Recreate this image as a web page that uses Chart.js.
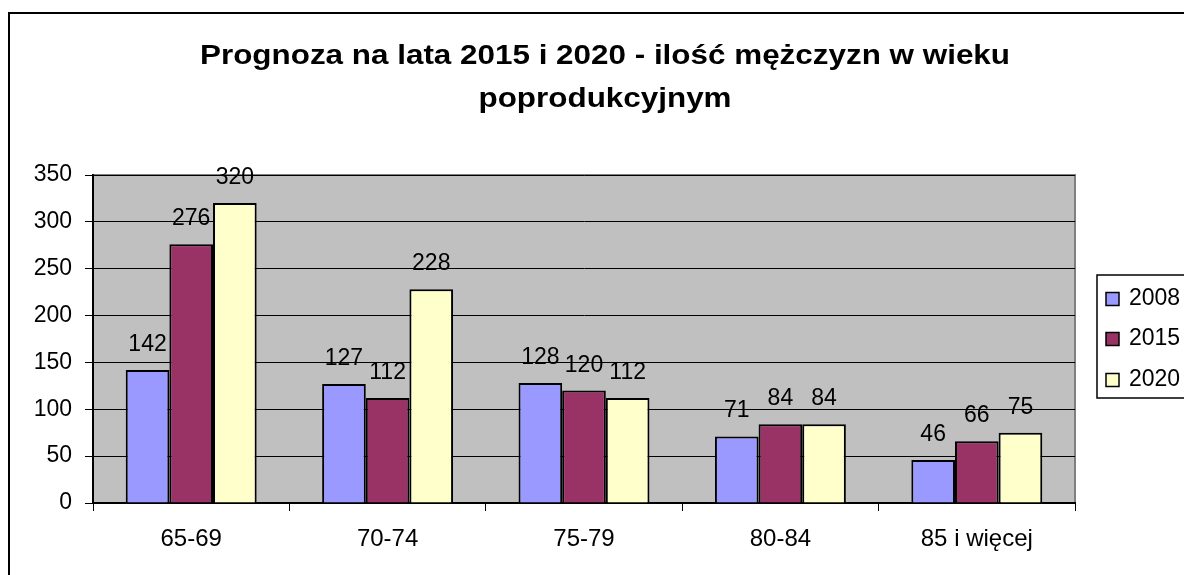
<!DOCTYPE html>
<html><head><meta charset="utf-8">
<script src="https://cdn.jsdelivr.net/npm/chart.js@4"></script>
<style>html,body{margin:0;padding:0;background:#fff;overflow:hidden}#wrap{width:1184px;height:575px;position:relative}</style>
</head><body><div id="wrap"><canvas id="c" width="1184" height="575"></canvas></div>
<script>
const categories = ["65-69", "70-74", "75-79", "80-84", "85 i więcej"];
const seriesNames = ["2008", "2015", "2020"];
const values2008 = [142, 127, 128, 71, 46];
const values2015 = [276, 112, 120, 84, 66];
const values2020 = [320, 228, 112, 84, 75];
const seriesColors = ["#9999FF", "#993366", "#FFFFCC"];
const yTicks = [0, 50, 100, 150, 200, 250, 300, 350];
const titleLines = ["Prognoza na lata 2015 i 2020 - ilość mężczyzn w wieku", "poprodukcyjnym"];

const FONT = "'Liberation Sans', Arial, sans-serif";

const decor = {
  id: 'decor',
  beforeDraw(chart) {
    const ctx = chart.ctx, a = chart.chartArea;
    ctx.save();
    ctx.fillStyle = '#fff';
    ctx.fillRect(0, 0, chart.width, chart.height);
    ctx.strokeStyle = '#000'; ctx.lineWidth = 2;
    ctx.strokeRect(9, 13, chart.width + 20, chart.height + 20);
    ctx.fillStyle = '#C0C0C0';
    ctx.fillRect(a.left, a.top, a.right - a.left, a.bottom - a.top);
    ctx.strokeStyle = '#808080'; ctx.lineWidth = 2;
    ctx.strokeRect(a.left, a.top, a.right - a.left, a.bottom - a.top);
    ctx.restore();
  },
  afterDraw(chart) {
    const ctx = chart.ctx;
    ctx.save();
    // title (horizontally stretched like the reference rendering)
    ctx.fillStyle = '#000';
    ctx.font = "bold 27px " + FONT;
    ctx.textAlign = 'center'; ctx.textBaseline = 'alphabetic';
    const w0 = ctx.measureText(titleLines[0]).width;
    const sx = 810 / w0;
    titleLines.forEach((t, i) => {
      ctx.save();
      ctx.translate(605, 64 + i * 43);
      ctx.scale(sx, 1);
      ctx.fillText(t, 0, 0);
      ctx.restore();
    });
    // data labels
    ctx.font = "23px " + FONT;
    ctx.textBaseline = 'alphabetic';
    chart.data.datasets.forEach((ds, di) => {
      const meta = chart.getDatasetMeta(di);
      meta.data.forEach((bar, i) => {
        ctx.fillText(String(ds.data[i]), bar.x, bar.y - 19);
      });
    });
    // legend
    const lx = 1097, ly = 275;
    ctx.fillStyle = '#fff';
    ctx.fillRect(lx, ly, 200, 123);
    ctx.strokeStyle = '#000'; ctx.lineWidth = 1.5;
    ctx.strokeRect(lx, ly, 200, 123);
    ctx.textAlign = 'left'; ctx.textBaseline = 'middle';
    const cys = [299, 339, 380];
    chart.data.datasets.forEach((ds, di) => {
      const cy = cys[di];
      ctx.fillStyle = ds.backgroundColor;
      ctx.fillRect(1106, cy - 6.5, 13, 13);
      ctx.strokeStyle = '#000'; ctx.lineWidth = 1.5;
      ctx.strokeRect(1106, cy - 6.5, 13, 13);
      ctx.fillStyle = '#000';
      ctx.fillText(ds.label, 1129, cy);
    });
    ctx.restore();
  }
};

const datasetValues = [values2008, values2015, values2020];
new Chart(document.getElementById('c'), {
  type: 'bar',
  data: {
    labels: categories,
    datasets: seriesNames.map((n, i) => ({
      label: n, data: datasetValues[i], backgroundColor: seriesColors[i],
      borderColor: '#000', borderWidth: 2,
      categoryPercentage: 3 / 4.5, barPercentage: 1
    }))
  },
  options: {
    responsive: false, animation: false,
    devicePixelRatio: 1,
    layout: { padding: { top: 175, right: 109, left: 0, bottom: 0 } },
    plugins: { legend: { display: false }, title: { display: false }, tooltip: { enabled: false } },
    scales: {
      x: {
        grid: { drawOnChartArea: false, drawTicks: true, tickLength: 8, color: '#000', offset: true },
        border: { color: '#000', width: 2 },
        ticks: { color: '#000', font: { family: FONT, size: 24 }, padding: 14, maxRotation: 0 },
        afterFit(s) { s.height = 72; }
      },
      y: {
        min: 0, max: 350,
        afterBuildTicks(s) { s.ticks = yTicks.map(v => ({ value: v })); },
        grid: { color: '#000', lineWidth: 1, tickLength: 8, drawTicks: true },
        border: { color: '#000', width: 2 },
        ticks: { color: '#000', font: { family: FONT, size: 23 }, padding: 13 },
        afterFit(s) { s.width = 93; }
      }
    }
  },
  plugins: [decor]
});
</script></body></html>
